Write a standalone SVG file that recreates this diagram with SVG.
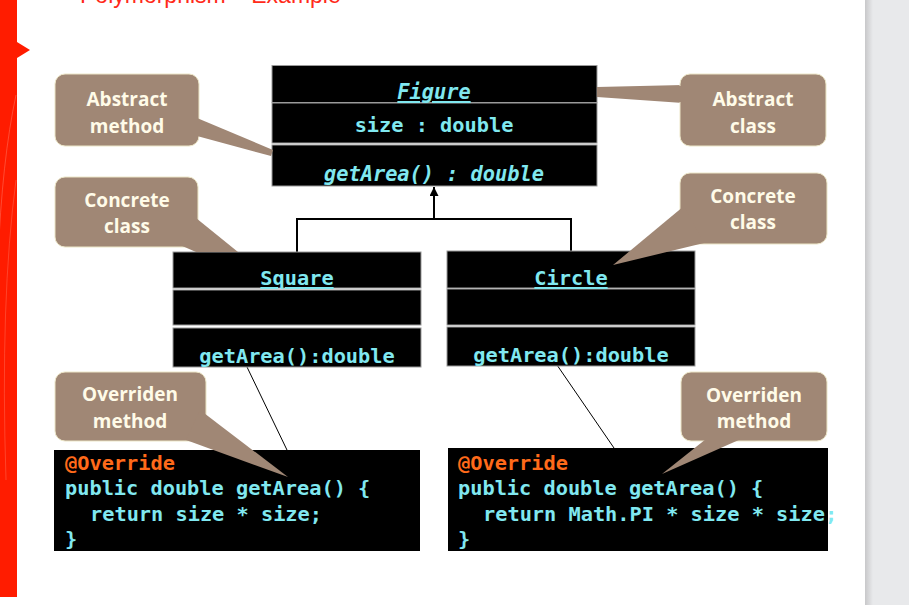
<svg xmlns="http://www.w3.org/2000/svg" width="909" height="605" viewBox="0 0 909 605">
<defs>
<style>
.cell{fill:#000;stroke:#9a9a9a;stroke-width:1}
.code{font-family:"DejaVu Sans Mono","Liberation Mono",monospace;font-weight:bold;font-size:20.3px;fill:#80e8f0;white-space:pre}
.ann{fill:#ff6a1a}
.ct{text-anchor:middle}
.call{fill:#a08775;stroke:#ece6c8;stroke-width:1}
.wedge{fill:#a08775}
.ctext{font-family:"Open Sans","Liberation Sans",sans-serif;font-weight:bold;font-size:19px;fill:#fffbe8;text-anchor:middle}
.conn{fill:none;stroke:#000;stroke-width:2}
.thin{fill:none;stroke:#000;stroke-width:1}
</style>
<marker id="tri" viewBox="0 0 10 10" refX="10" refY="5" markerWidth="4.5" markerHeight="4.5" orient="auto" markerUnits="strokeWidth">
<path d="M0,0 L10,5 L0,10 Z" fill="#000"/>
</marker>
<linearGradient id="shadow" x1="0" x2="1" y1="0" y2="0">
<stop offset="0" stop-color="#c8c8ca"/>
<stop offset="1" stop-color="#e8e9eb"/>
</linearGradient>
</defs>
<rect x="0" y="0" width="909" height="605" fill="#fff"/>
<rect x="865" y="0" width="44" height="605" fill="#e8e9eb"/>
<rect x="865" y="0" width="8" height="605" fill="url(#shadow)"/>
<g id="sidebar">
<rect x="0" y="0" width="17" height="597" fill="#ff1c00"/>
<polygon points="17,42 30,50 17,58" fill="#ff1c00"/>
<path d="M16,95 Q2,160 -2,260" fill="none" stroke="#ff7a66" stroke-width="0.7" opacity="0.7"/>
<path d="M16,180 Q0,300 6,480" fill="none" stroke="#ff7a66" stroke-width="0.7" opacity="0.6"/>
</g>
<text x="80" y="3" font-family="Liberation Sans, sans-serif" font-size="23" fill="#ff2a1a">Polymorphism – Example</text>

<g id="connectors">
<polyline class="conn" points="297,252 297,219 571,219 571,251"/>
<line class="conn" x1="434" y1="219" x2="434" y2="187" marker-end="url(#tri)"/>
<line class="thin" x1="247" y1="367" x2="287" y2="450"/>
<line class="thin" x1="557" y1="365" x2="614" y2="448"/>
</g>

<g id="figure">
<rect class="cell" x="272" y="65.5" width="325" height="37"/>
<rect class="cell" x="272" y="103" width="325" height="40"/>
<rect class="cell" x="272" y="145" width="325" height="41"/>
<text class="code ct" x="434" y="99" font-style="italic" text-decoration="underline">Figure</text>
<text class="code ct" x="434" y="132">size : double</text>
<text class="code ct" x="434" y="181" font-style="italic">getArea() : double</text>
</g>

<g id="square">
<rect class="cell" x="173" y="252" width="248" height="36"/>
<rect class="cell" x="173" y="290" width="248" height="35"/>
<rect class="cell" x="173" y="328" width="248" height="39"/>
<text class="code ct" x="297" y="285" text-decoration="underline">Square</text>
<text class="code ct" x="297" y="363">getArea():double</text>
</g>

<g id="circle">
<rect class="cell" x="447" y="251" width="248" height="37"/>
<rect class="cell" x="447" y="289" width="248" height="36"/>
<rect class="cell" x="447" y="327" width="248" height="39"/>
<text class="code ct" x="571" y="285" text-decoration="underline">Circle</text>
<text class="code ct" x="571" y="362">getArea():double</text>
</g>

<g id="code-square">
<rect x="54" y="450" width="366" height="101" fill="#000"/>
<text class="code" x="65" y="470"><tspan class="ann">@Override</tspan></text>
<text class="code" x="65" y="495">public double getArea() {</text>
<text class="code" x="90" y="521">return size * size;</text>
<text class="code" x="65" y="546">}</text>
</g>

<g id="code-circle">
<rect x="448" y="448" width="380" height="103" fill="#000"/>
<text class="code" x="458" y="470"><tspan class="ann">@Override</tspan></text>
<text class="code" x="458" y="495">public double getArea() {</text>
<text class="code" x="483" y="521">return Math.PI * size * size;</text>
<text class="code" x="458" y="546">}</text>
</g>

<g id="callout-abstract-method">
<rect class="call" x="55" y="74" width="144" height="72" rx="10"/>
<polygon class="wedge" points="197,118 273,150 271,156 197,136"/>
<text class="ctext" x="127" y="106">Abstract</text>
<text class="ctext" x="127" y="133">method</text>
</g>

<g id="callout-abstract-class">
<polygon class="wedge" points="597,87 683,85 683,103 597,97"/>
<rect class="call" x="680" y="74" width="146" height="72" rx="10"/>
<polygon class="wedge" points="679,86 683,86 683,102 679,102"/>
<text class="ctext" x="753" y="106">Abstract</text>
<text class="ctext" x="753" y="133">class</text>
</g>

<g id="callout-concrete-left">
<rect class="call" x="55" y="177" width="143" height="70" rx="10"/>
<polygon class="wedge" points="196,218 238,252 196,252 180,245"/>
<text class="ctext" x="127" y="207">Concrete</text>
<text class="ctext" x="127" y="233">class</text>
</g>

<g id="callout-concrete-right">
<rect class="call" x="680" y="173" width="147" height="71" rx="10"/>
<polygon class="wedge" points="684,206 613,265 704,243"/>
<text class="ctext" x="753" y="203">Concrete</text>
<text class="ctext" x="753" y="229">class</text>
</g>

<g id="callout-overriden-left">
<rect class="call" x="55" y="372" width="151" height="69" rx="10"/>
<polygon class="wedge" points="200,410 288,477 186,440"/>
<text class="ctext" x="130" y="401">Overriden</text>
<text class="ctext" x="130" y="428">method</text>
</g>

<g id="callout-overriden-right">
<rect class="call" x="681" y="372" width="146" height="69" rx="10"/>
<polygon class="wedge" points="706,439 662,474 741,439"/>
<text class="ctext" x="754" y="402">Overriden</text>
<text class="ctext" x="754" y="428">method</text>
</g>
</svg>
